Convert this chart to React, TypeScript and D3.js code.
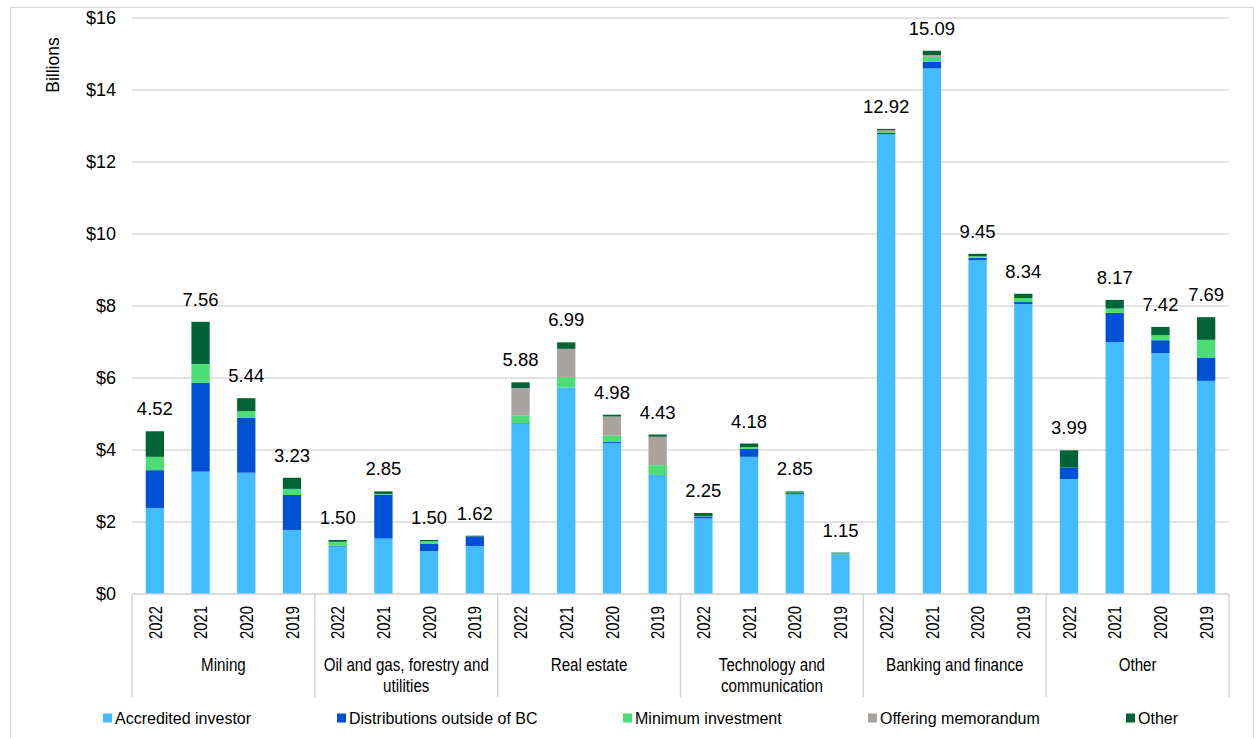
import * as d3 from 'd3';

// data (billions of dollars)
const categories = ['Mining', 'Oil and gas, forestry and utilities', 'Real estate', 'Technology and communication', 'Banking and finance', 'Other'];
const categoryLines = [['Mining'], ['Oil and gas, forestry and', 'utilities'], ['Real estate'], ['Technology and', 'communication'], ['Banking and finance'], ['Other']];
const years = ['2022', '2021', '2020', '2019'];

const seriesNames = ['Accredited investor', 'Distributions outside of BC', 'Minimum investment', 'Offering memorandum', 'Other'];

const accredited = [2.39, 3.40, 3.37, 1.78, 1.32, 1.54, 1.19, 1.33, 4.72, 5.74, 4.19, 3.30, 2.10, 3.81, 2.78, 1.09, 12.77, 14.60, 9.27, 8.05, 3.19, 7.00, 6.69, 5.92];
const distributions = [1.05, 2.47, 1.53, 0.97, 0.02, 1.22, 0.20, 0.27, 0.02, 0.00, 0.03, 0.01, 0.05, 0.22, 0.03, 0.01, 0.04, 0.18, 0.07, 0.06, 0.32, 0.81, 0.36, 0.65];
const minimum = [0.37, 0.52, 0.18, 0.17, 0.11, 0.02, 0.08, 0.00, 0.22, 0.29, 0.18, 0.27, 0.01, 0.05, 0.01, 0.03, 0.05, 0.14, 0.04, 0.11, 0.00, 0.12, 0.14, 0.49];
const offering = [0, 0, 0, 0, 0, 0, 0, 0, 0.76, 0.78, 0.53, 0.79, 0, 0, 0, 0, 0.02, 0.05, 0, 0, 0, 0, 0, 0];
const otherType = [0.71, 1.17, 0.36, 0.31, 0.05, 0.07, 0.03, 0.02, 0.16, 0.18, 0.05, 0.06, 0.09, 0.10, 0.03, 0.02, 0.04, 0.12, 0.07, 0.12, 0.48, 0.24, 0.23, 0.63];

const yTicks = [0, 2, 4, 6, 8, 10, 12, 14, 16];

const colors = ['#43BCFF', '#0050D6', '#4ADE74', '#A8A39F', '#006437'];
const legendX = [103, 337, 623, 868, 1126];

const W = 1257;
const H = 738;
const left = 132;
const right = 1229;
const top = 18;
const base = 594;
const font = 'Arial, "Liberation Sans", sans-serif';
// the category axis in the source uses a narrow face; squeeze Arial to match
const squeeze = 0.8;

const App = () => {
    const rows = categories.flatMap((c, ci) => years.map((yr, yi) => {
        const i = ci * years.length + yi;
        return {
            category: c, year: yr,
            [seriesNames[0]]: accredited[i],
            [seriesNames[1]]: distributions[i],
            [seriesNames[2]]: minimum[i],
            [seriesNames[3]]: offering[i],
            [seriesNames[4]]: otherType[i],
        } as any;
    }));

    const x0 = d3.scaleBand().domain(categories).range([left, right]);
    const x1 = d3.scaleBand().domain(years).range([0, x0.bandwidth()]).paddingInner(0.6).paddingOuter(0.3);
    const y = d3.scaleLinear().domain([0, 16]).range([base, top]);

    const stacked = d3.stack().keys(seriesNames)(rows);
    const fmt = d3.format('.2f');
    const barX = (d: any) => (x0(d.category) as number) + (x1(d.year) as number);

    return (
        <svg width={W} height={H} style={{ position: 'absolute', left: 0, top: 0, background: '#fff' }}>
            <rect x={10.5} y={7.5} width={1243} height={731} fill="#fff" stroke="#d9d9d9" />

            {/* gridlines and y labels */}
            {yTicks.map(t => (
                <g key={t}>
                    {t > 0 && <line x1={left} x2={right} y1={y(t)} y2={y(t)} stroke="#d9d9d9" strokeWidth={1.3} />}
                    <text x={116} y={y(t)} dy="0.35em" textAnchor="end" fontFamily={font} fontSize={18} fill="#000">${t}</text>
                </g>
            ))}
            <text transform="translate(59,65) rotate(-90)" textAnchor="middle" fontFamily={font} fontSize={17.5} fill="#000">Billions</text>

            {/* stacked bars */}
            {stacked.map((s, si) => (
                <g key={s.key} fill={colors[si]}>
                    {s.map((d: any, i: number) => (
                        <rect key={i} x={barX(d.data)} width={x1.bandwidth()} y={y(d[1])} height={Math.max(0, y(d[0]) - y(d[1]))} />
                    ))}
                </g>
            ))}

            {/* total labels */}
            {rows.map((r: any, i: number) => {
                const total = d3.sum(seriesNames, k => r[k]);
                return (
                    <text key={i} x={barX(r) + x1.bandwidth() / 2} y={y(total) - 16} textAnchor="middle" fontFamily={font} fontSize={18.5} fill="#000">
                        {fmt(total)}
                    </text>
                );
            })}

            {/* category axis */}
            <line x1={left} x2={right} y1={base} y2={base} stroke="#d0d0d0" strokeWidth={1.3} />
            {[...categories.map(c => x0(c) as number), right].map((xv, i) => (
                <line key={i} x1={xv} x2={xv} y1={base} y2={697} stroke="#d0d0d0" strokeWidth={1.3} />
            ))}
            {rows.map((r: any, i: number) => (
                <text key={i} transform={`translate(${barX(r) + x1.bandwidth() / 2},606) rotate(-90) scale(0.78,1)`} dy="0.35em" textAnchor="end" fontFamily={font} fontSize={19} fill="#000">
                    {r.year}
                </text>
            ))}
            {categories.map((c, ci) => (
                <g key={c} transform={`translate(${(x0(c) as number) + x0.bandwidth() / 2},671) scale(${squeeze + 0.02},1)`}>
                    <text x={0} y={0} textAnchor="middle" fontFamily={font} fontSize={18.5} fill="#000">
                        {categoryLines[ci].map((ln, li) => (
                            <tspan key={li} x={0} dy={li === 0 ? 0 : 21}>{ln}</tspan>
                        ))}
                    </text>
                </g>
            ))}

            {/* legend */}
            {seriesNames.map((n, i) => (
                <g key={n} transform={`translate(${legendX[i]},718)`}>
                    <rect x={0} y={-4.5} width={9} height={9} fill={colors[i]} />
                    <text x={12} y={0} dy="0.35em" fontFamily={font} fontSize={16} fill="#000">{n}</text>
                </g>
            ))}
        </svg>
    );
};

export default App;
